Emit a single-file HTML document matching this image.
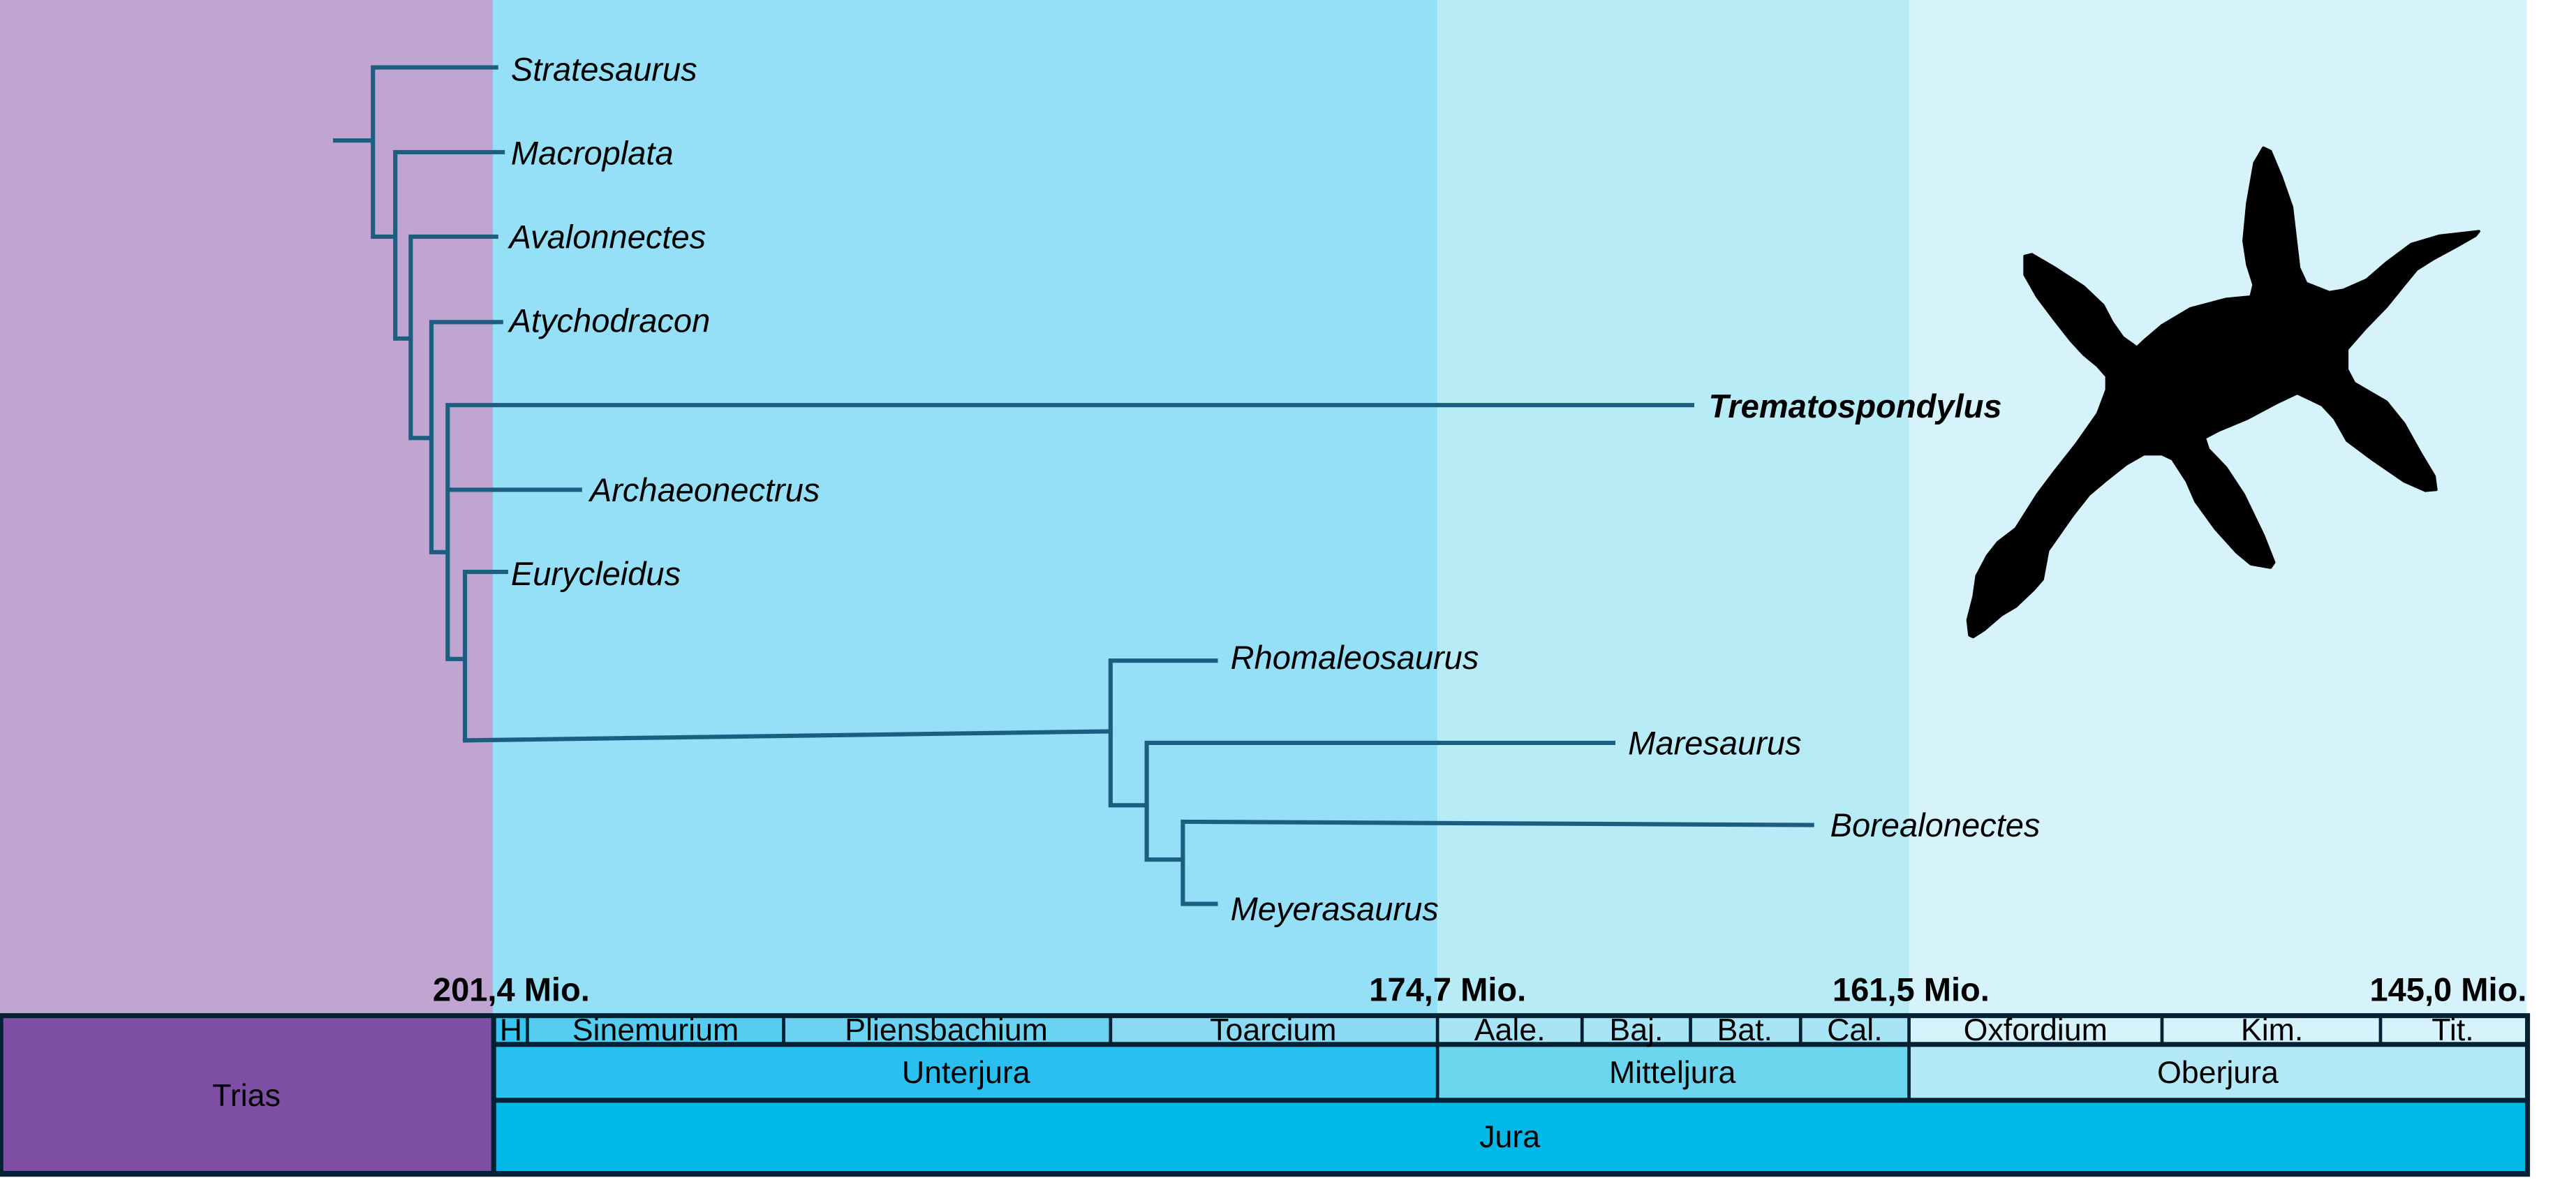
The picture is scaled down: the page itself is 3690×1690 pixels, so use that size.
<!DOCTYPE html>
<html><head><meta charset="utf-8"><style>
html,body{margin:0;padding:0;background:#fff;}
svg{display:block;}
text{font-family:"Liberation Sans",sans-serif;}
</style></head><body>
<svg width="3690" height="1690" viewBox="0 0 1568 718" preserveAspectRatio="none" xmlns="http://www.w3.org/2000/svg">
<rect x="0" y="0" width="1568" height="718" fill="#fff"/>
<rect x="0" y="0" width="300" height="618" fill="#c0a5d2"/>
<rect x="300" y="0" width="575" height="618" fill="#95e0f6"/>
<rect x="875" y="0" width="287" height="618" fill="#b7ebf6"/>
<rect x="1162" y="0" width="376" height="618" fill="#d6f2fb"/>

<!-- table -->
<rect x="0" y="616.5" width="1540" height="99.5" fill="#032133"/>
<rect x="2" y="619.5" width="297" height="93" fill="#7f4fa5"/>
<g>
<rect x="302" y="619.5" width="18" height="14.5" fill="#37c5ef"/>
<rect x="322" y="619.5" width="154" height="14.5" fill="#55cdf0"/>
<rect x="478" y="619.5" width="197" height="14.5" fill="#6bd2f2"/>
<rect x="677" y="619.5" width="197" height="14.5" fill="#8cd9f3"/>
<rect x="876" y="619.5" width="86" height="14.5" fill="#a7e4f6"/>
<rect x="964" y="619.5" width="64" height="14.5" fill="#a7e4f6"/>
<rect x="1030" y="619.5" width="65" height="14.5" fill="#a7e4f6"/>
<rect x="1097" y="619.5" width="64" height="14.5" fill="#a7e4f6"/>
<rect x="1163" y="619.5" width="152" height="14.5" fill="#d6f2fb"/>
<rect x="1317" y="619.5" width="131" height="14.5" fill="#d6f2fb"/>
<rect x="1450" y="619.5" width="87" height="14.5" fill="#d6f2fb"/>
<rect x="302" y="637" width="572" height="31" fill="#29c0ef"/>
<rect x="876" y="637" width="285" height="31" fill="#6dd6ef"/>
<rect x="1163" y="637" width="374" height="31" fill="#b3e8f6"/>
<rect x="302" y="671" width="1235" height="41.5" fill="#00b8e6"/>
</g>
<g font-size="19" fill="#000" text-anchor="middle">
<text x="311" y="633">H</text>
<text x="399" y="633">Sinemurium</text>
<text x="576" y="633">Pliensbachium</text>
<text x="775" y="633">Toarcium</text>
<text x="919" y="633">Aale.</text>
<text x="996" y="633">Baj.</text>
<text x="1062" y="633">Bat.</text>
<text x="1129" y="633">Cal.</text>
<text x="1239" y="633">Oxfordium</text>
<text x="1383" y="633">Kim.</text>
<text x="1493" y="633">Tit.</text>
<text x="588" y="659">Unterjura</text>
<text x="1018" y="659">Mitteljura</text>
<text x="1350" y="659">Oberjura</text>
<text x="150" y="673">Trias</text>
<text x="919" y="698">Jura</text>
</g>
<g font-size="20" font-weight="bold" fill="#000" text-anchor="end">
<text x="359" y="609">201,4 Mio.</text>
<text x="929" y="609">174,7 Mio.</text>
<text x="1211" y="609">161,5 Mio.</text>
<text x="1538" y="609">145,0 Mio.</text>
</g>

<!-- tree -->
<g stroke="#1b5e80" stroke-width="2.6" fill="none" stroke-linecap="square">
<path d="M204 85.5H227 M227 41V144 M227 41H302 M227 144H240"/>
<path d="M240.6 92.6V206 M240.6 92.6H306 M240.6 206H250"/>
<path d="M250 144V266.5 M250 144H302 M250 266.5H262"/>
<path d="M262.6 196V336 M262.6 196H305 M262.6 336H272"/>
<path d="M272.5 246.5V401 M272.5 246.5H1030 M272.5 298H353 M272.5 401H282"/>
<path d="M283 348V450.5 M283 348H308 M283 450.5L676 445"/>
<path d="M676 402V490 M676 402H740 M676 490H698"/>
<path d="M698 452V523 M698 452H982 M698 523H720"/>
<path d="M720 500V550 M720 500L1103 502 M720 550H740"/>
</g>
<g font-size="20" font-style="italic" fill="#000">
<text x="311" y="49">Stratesaurus</text>
<text x="311" y="100">Macroplata</text>
<text x="310" y="151">Avalonnectes</text>
<text x="310" y="202">Atychodracon</text>
<text x="1040" y="254" font-weight="bold">Trematospondylus</text>
<text x="359" y="305">Archaeonectrus</text>
<text x="311" y="356">Eurycleidus</text>
<text x="749" y="407">Rhomaleosaurus</text>
<text x="991" y="459">Maresaurus</text>
<text x="1114" y="509">Borealonectes</text>
<text x="749" y="560">Meyerasaurus</text>
</g>

<!-- silhouette -->
<g transform="translate(1181.5,76.5) scale(0.2168,0.2060)">
<path fill="#000" stroke="#000" stroke-width="8" stroke-linejoin="round" d="M80 1505 L75 1460 L92 1390 L100 1330 L130 1270 L160 1230 L210 1190 L270 1090 L320 1020 L380 940 L440 850 L465 780 L465 740 L440 710 L400 675 L365 635 L320 575 L270 505 L235 440 L235 385 L255 380 L320 420 L400 475 L455 530 L480 580 L510 625 L550 655 L570 635 L620 590 L700 540 L800 512 L870 505 L878 470 L860 410 L850 340 L860 230 L880 110 L905 65 L925 75 L955 150 L985 240 L995 330 L1005 420 L1025 465 L1090 492 L1130 485 L1195 455 L1250 405 L1320 350 L1400 325 L1510 312 L1500 325 L1450 355 L1380 395 L1335 425 L1300 470 L1250 535 L1190 600 L1140 660 L1140 720 L1160 760 L1250 815 L1300 880 L1345 965 L1385 1035 L1390 1075 L1360 1078 L1300 1050 L1210 985 L1140 930 L1105 865 L1070 825 L1000 790 L940 820 L860 865 L780 900 L740 922 L750 955 L800 1010 L850 1090 L905 1210 L935 1290 L925 1305 L870 1295 L830 1260 L770 1190 L715 1110 L690 1050 L650 985 L620 970 L570 970 L520 1000 L460 1050 L415 1090 L370 1150 L320 1225 L300 1255 L285 1340 L260 1370 L210 1420 L170 1445 L120 1490 L90 1510 Z"/>
</g>
</svg>
</body></html>
